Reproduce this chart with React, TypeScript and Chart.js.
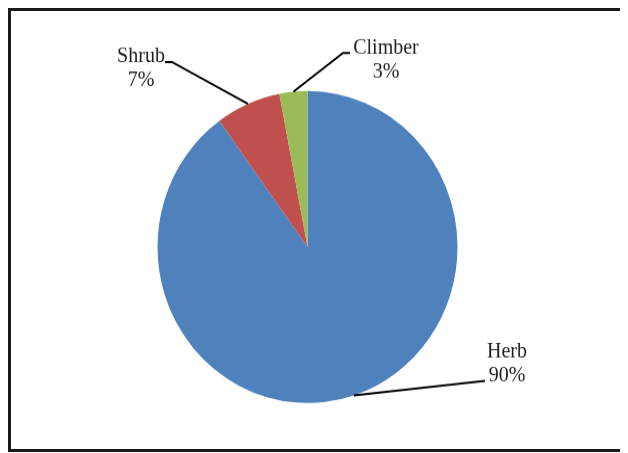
import React, { useEffect, useRef } from "react";
import { Chart, registerables } from "chart.js";

Chart.register(...registerables);

// Growth-form composition
const categories = ["Herb", "Shrub", "Climber"];
const shares = [90, 7, 3];
const sliceColors = ["#4F81BD", "#C0504D", "#9BBB59"];

// vertical stretch applied to the canvas element
const STRETCH_Y = 1.04;

// label placement per slice (canvas px): text centre, first baseline, leader path
type LabelSpot = {
  cx: number;
  baseline: number;
  path: Array<[number, number]>;
};
const labelSpots: LabelSpot[] = [
  { cx: 499, baseline: 336, path: [[477, 358.5]] },
  { cx: 133, baseline: 51.6, path: [[164, 51.9], [157, 51.9]] },
  { cx: 378, baseline: 43.8, path: [[335, 43.3], [342, 43.3]] },
];

const leaderLabels = {
  id: "leaderLabels",
  afterDatasetsDraw(chart: any) {
    const ctx: CanvasRenderingContext2D = chart.ctx;
    const meta = chart.getDatasetMeta(0);
    const values: number[] = chart.data.datasets[0].data;
    const total = values.reduce((a, b) => a + b, 0);
    ctx.save();
    meta.data.forEach((arc: any, i: number) => {
      const { x, y, outerRadius, startAngle, endAngle } = arc.getProps(
        ["x", "y", "outerRadius", "startAngle", "endAngle"],
        true
      );
      const mid = (startAngle + endAngle) / 2;
      const ax = x + Math.cos(mid) * outerRadius;
      const ay = y + Math.sin(mid) * outerRadius;
      const spot = labelSpots[i];

      ctx.beginPath();
      ctx.moveTo(ax, ay);
      spot.path.forEach(([px, py]) => ctx.lineTo(px, py));
      ctx.strokeStyle = "#000";
      ctx.lineWidth = 2;
      ctx.stroke();

      ctx.fillStyle = "#1e1e1e";
      ctx.font = '20px "Liberation Serif", "Times New Roman", serif';
      ctx.textAlign = "center";
      ctx.textBaseline = "alphabetic";
      const pct = Math.round((values[i] / total) * 100) + "%";
      ctx.fillText(chart.data.labels[i], spot.cx, spot.baseline);
      ctx.fillText(pct, spot.cx, spot.baseline + 23);
    });
    ctx.restore();
  },
};

export default function App() {
  const canvasRef = useRef<HTMLCanvasElement | null>(null);

  useEffect(() => {
    // the frame runs past the right edge of the page; keep scrollbars away
    document.documentElement.style.overflow = "hidden";
    document.body.style.overflow = "hidden";
    if (!canvasRef.current) return;
    const chart = new Chart(canvasRef.current, {
      type: "pie",
      data: {
        labels: categories,
        datasets: [
          {
            data: shares,
            backgroundColor: sliceColors,
            borderWidth: 0,
          },
        ],
      },
      options: {
        animation: false,
        responsive: true,
        maintainAspectRatio: false,
        layout: {
          padding: { left: 149.5, right: 170.5, top: 79.8, bottom: 48.2 },
        },
        plugins: {
          legend: { display: false },
          tooltip: { enabled: false },
        },
      },
      plugins: [leaderLabels],
    });
    return () => chart.destroy();
  }, []);

  return (
    <div style={{ position: "relative", width: 612, height: 445, overflow: "visible" }}>
      <div
        style={{
          position: "absolute",
          left: 0,
          top: 0,
          width: 640,
          height: 444,
          boxSizing: "border-box",
          borderTop: "3px solid #1a1a1a",
          borderLeft: "3px solid #1a1a1a",
          borderBottom: "3px solid #1a1a1a",
        }}
      />
      <div
        style={{
          position: "absolute",
          left: 0,
          top: 0,
          width: 620,
          height: 428,
          transform: `scaleY(${STRETCH_Y})`,
          transformOrigin: "top left",
        }}
      >
        <canvas ref={canvasRef} />
      </div>
    </div>
  );
}
